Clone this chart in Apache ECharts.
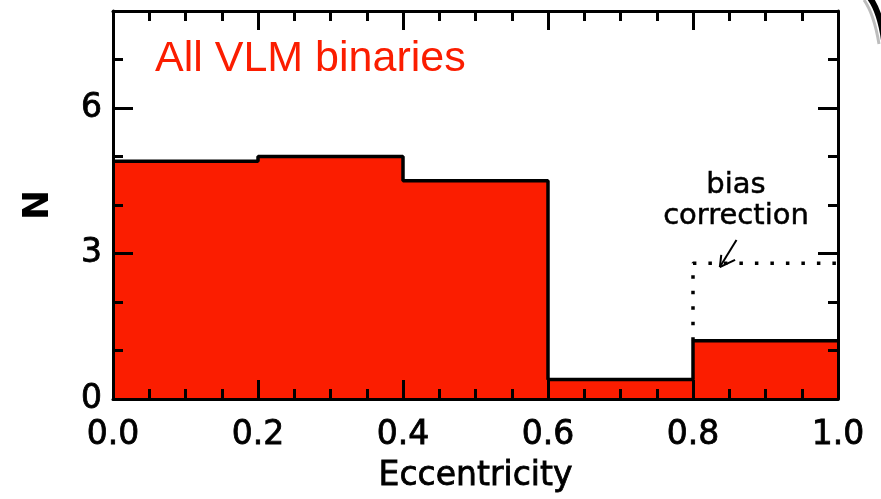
<!DOCTYPE html>
<html>
<head>
<meta charset="utf-8">
<script src="https://cdn.jsdelivr.net/npm/echarts@6/dist/echarts.min.js"></script>
<style>
  html, body { margin: 0; padding: 0; background: #fff; }
  #chart { width: 881px; height: 499px; }
</style>
</head>
<body>
<div id="chart"></div>
<script>
// Eccentricity histogram of very-low-mass binaries
const binEdges = [0.0, 0.2, 0.4, 0.6, 0.8, 1.0];
const counts = [4.9, 5.0, 4.5, 0.4, 1.2];
const biasCorrectedLastBin = 2.8;
const xTickStep = 0.2;
const yTickStep = 3;
const yMax = 8;

// arrow from the "bias correction" note down to the corrected bin (data coords)
const arrowShaft = [[0.860, 3.28], [0.837, 2.72]];
const arrowWingA = [[0.837, 2.72], [0.839, 2.97]];
const arrowWingB = [[0.837, 2.72], [0.858, 2.87]];

const RED = '#fb1d00';
const INK = '#000';
const AXIS_FONT = 'DejaVu Sans';

// step outline: each bin edge carries its bin's count, last edge repeats the last bin
const stepData = binEdges.map((e, i) => [e, counts[Math.min(i, counts.length - 1)]]);
const lastEdge = binEdges[binEdges.length - 2];
const biasData = [
  [lastEdge, counts[counts.length - 1]],
  [lastEdge, biasCorrectedLastBin],
  [binEdges[binEdges.length - 1], biasCorrectedLastBin]
];

const chart = echarts.init(document.getElementById('chart'), null, { renderer: 'canvas' });

const axisText = {
  color: INK, fontSize: 33, fontFamily: AXIS_FONT,
  textBorderColor: INK, textBorderWidth: 0.8
};

function xAxisDef(pos, withLabels) {
  return {
    type: 'value', position: pos, min: 0, max: 1, interval: xTickStep, z: 10,
    axisLine: { show: true, onZero: false, lineStyle: { color: INK, width: 3 } },
    axisTick: { show: true, inside: true, length: 19, lineStyle: { color: INK, width: 3 } },
    minorTick: { show: true, splitNumber: 4, length: 10, lineStyle: { color: INK, width: 3 } },
    splitLine: { show: false },
    axisLabel: withLabels ? Object.assign({
      show: true, margin: 20, formatter: v => v.toFixed(1)
    }, axisText) : { show: false },
    name: withLabels ? 'Eccentricity' : '',
    nameLocation: 'middle', nameGap: 61,
    nameTextStyle: axisText
  };
}

function yAxisDef(pos, step, tickLen, withLine, withLabels) {
  return {
    type: 'value', position: pos, min: 0, max: yMax, interval: step, z: 10,
    axisLine: { show: withLine, onZero: false, lineStyle: { color: INK, width: 3 } },
    axisTick: { show: true, inside: true, length: tickLen, lineStyle: { color: INK, width: 3 } },
    splitLine: { show: false },
    axisLabel: withLabels ? Object.assign({
      show: true, margin: 11, showMaxLabel: false
    }, axisText) : { show: false },
    name: withLabels ? 'N' : '',
    nameLocation: 'middle', nameGap: 56, nameRotate: 90,
    nameTextStyle: { color: INK, fontSize: 36, fontWeight: 'bold', fontFamily: AXIS_FONT }
  };
}

chart.setOption({
  animation: false,
  backgroundColor: '#fff',
  grid: { left: 113, right: 43, top: 11, bottom: 100, containLabel: false, outerBoundsMode: 'none' },
  xAxis: [xAxisDef('bottom', true), xAxisDef('top', false)],
  yAxis: [
    yAxisDef('left', yTickStep, 20, true, true),
    yAxisDef('left', 1, 10, false, false),
    yAxisDef('right', yTickStep, 20, true, false),
    yAxisDef('right', 1, 10, false, false)
  ],
  series: [
    {
      name: 'All VLM binaries', type: 'line', step: 'end',
      xAxisIndex: 0, yAxisIndex: 0,
      data: stepData, symbol: 'none', z: 2,
      lineStyle: { color: INK, width: 3.5 },
      areaStyle: { color: RED, opacity: 1, origin: 'start' }
    },
    {
      name: 'bias correction', type: 'line',
      xAxisIndex: 0, yAxisIndex: 0,
      data: biasData, symbol: 'none', z: 3,
      lineStyle: { color: INK, width: 3.5, type: [3.5, 12] },
      markLine: {
        silent: true, symbol: 'none', label: { show: false },
        lineStyle: { color: INK, width: 2, type: 'solid' },
        data: [arrowShaft, arrowWingA, arrowWingB].map(seg => [
          { coord: seg[0] }, { coord: seg[1] }
        ])
      }
    }
  ],
  graphic: [
    {
      type: 'text', x: 155, y: 59, z: 20,
      style: {
        text: 'All VLM binaries', fill: RED, fontSize: 43,
        fontFamily: 'Liberation Sans', verticalAlign: 'middle', align: 'left'
      }
    },
    {
      type: 'text', x: 736, y: 185, z: 20,
      style: {
        text: 'bias', fill: INK, fontSize: 29, fontFamily: AXIS_FONT,
        align: 'center', verticalAlign: 'middle', stroke: INK, lineWidth: 0.5
      }
    },
    {
      type: 'text', x: 736, y: 216, z: 20,
      style: {
        text: 'correction', fill: INK, fontSize: 29, fontFamily: AXIS_FONT,
        align: 'center', verticalAlign: 'middle', stroke: INK, lineWidth: 0.5
      }
    },
    // rounded window edge in the upper-right corner
    {
      type: 'bezierCurve', z: 30,
      shape: { x1: 864, y1: 0, cpx1: 874, cpy1: 14, x2: 879, y2: 44 },
      style: { stroke: '#bdbdbd', lineWidth: 3, fill: null }
    },
    {
      type: 'bezierCurve', z: 31,
      shape: { x1: 870, y1: -2, cpx1: 880, cpy1: 12, x2: 884, y2: 40 },
      style: { stroke: '#000', lineWidth: 6, fill: null }
    }
  ]
});
</script>
</body>
</html>
